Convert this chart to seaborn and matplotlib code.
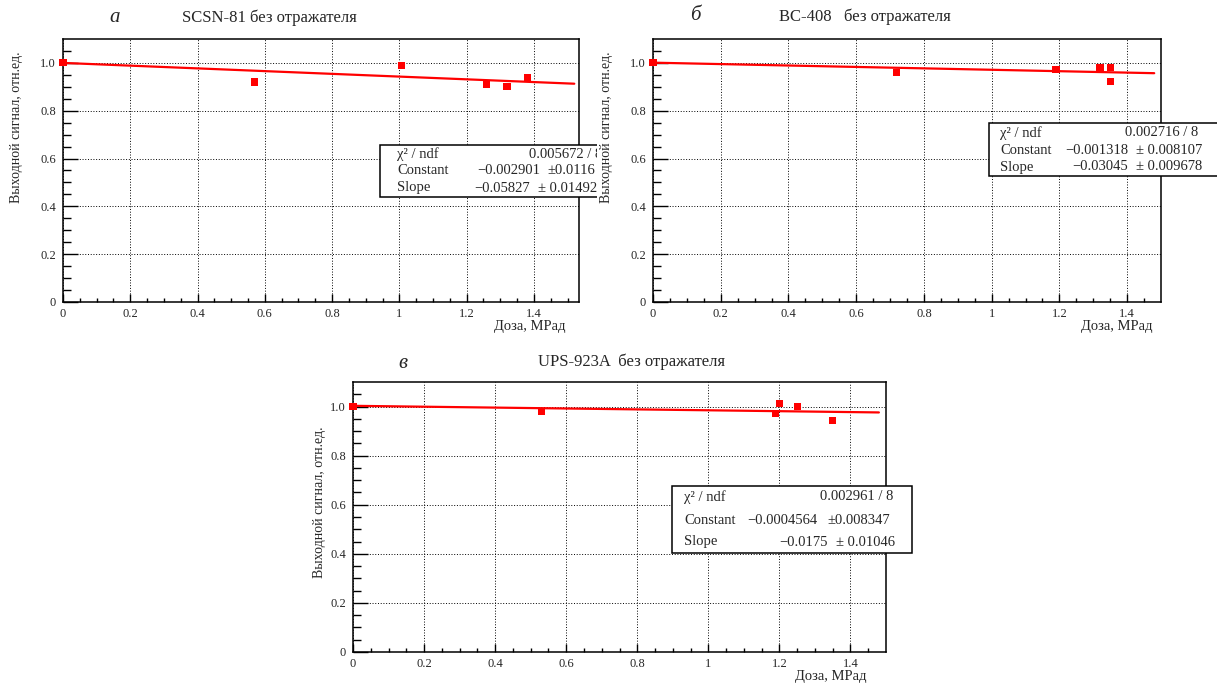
import numpy as np
import matplotlib
matplotlib.use("Agg")
import matplotlib.pyplot as plt
from matplotlib.patches import Rectangle
from matplotlib.transforms import Bbox, TransformedBbox
import seaborn as sns

# data
a_dose = [0.0, 0.57, 1.005, 1.26, 1.32, 1.38]
a_signal = [1.0, 0.92, 0.99, 0.91, 0.90, 0.94]
a_fit_x = [0.0, 1.52]
a_fit_y = [1.0, 0.913]

b_dose = [0.0, 0.72, 1.19, 1.32, 1.35, 1.35]
b_signal = [1.0, 0.96, 0.972, 0.982, 0.982, 0.922]
b_fit_x = [0.0, 1.48]
b_fit_y = [1.001, 0.957]

c_dose = [0.0, 0.53, 1.19, 1.20, 1.25, 1.35]
c_signal = [1.0, 0.981, 0.971, 1.012, 1.002, 0.942]
c_fit_x = [0.0, 1.48]
c_fit_y = [1.003, 0.976]

titles = ["SCSN-81 без отражателя", "BC-408   без отражателя", "UPS-923A  без отражателя"]
letters = ["а", "б", "в"]
stat_labels = ["χ² / ndf", "Constant", "Slope"]
a_stats = ["0.005672 / 8", ("−0.002901", "±0.0116"), ("−0.05827", "± 0.01492")]
b_stats = ["0.002716 / 8", ("−0.001318", "± 0.008107"), ("−0.03045", "± 0.009678")]
c_stats = ["0.002961 / 8", ("−0.0004564", "±0.008347"), ("−0.0175", "± 0.01046")]

x_ticks = [0, 0.2, 0.4, 0.6, 0.8, 1.0, 1.2, 1.4]
x_labels = ["0", "0.2", "0.4", "0.6", "0.8", "1", "1.2", "1.4"]
y_ticks = [0, 0.2, 0.4, 0.6, 0.8, 1.0]
y_labels = ["0", "0.2", "0.4", "0.6", "0.8", "1.0"]
xlabel = "Доза, МРад"
ylabel = "Выходной сигнал, отн.ед."

sns.set_theme(style="ticks")
plt.rcParams["font.family"] = ["Liberation Serif", "DejaVu Serif"]

W, H = 1217, 683
fig = plt.figure(figsize=(W / 100, H / 100), dpi=100)


def px(x, y):
    return x / W, 1 - y / H


def make_axes(l, t, r, b):
    return fig.add_axes([l / W, 1 - b / H, (r - l) / W, (b - t) / H])


panels = [
    dict(box=(63, 39, 579, 302), xmax=1.534, dose=a_dose, sig=a_signal, fx=a_fit_x, fy=a_fit_y,
         ylab=(-0.091, 0.951), xlab=(0.973, -0.092),
         letter=(109, 17), title=(182, 18),
         stats=a_stats, sbox=(380, 145, 640, 197), clip=597,
         rows=(154, 171, 188), lab_x=397, r1=602, vx=(540, 530), ex=(547, 538)),
    dict(box=(653, 39, 1161, 302), xmax=1.50, dose=b_dose, sig=b_signal, fx=b_fit_x, fy=b_fit_y,
         ylab=(-0.0906, 0.951), xlab=(0.984, -0.092),
         letter=(690, 15), title=(779, 17),
         stats=b_stats, sbox=(989, 123, 1230, 176), clip=1217,
         rows=(133, 150, 167), lab_x=1000, r1=1198, vx=(1128, 1128), ex=(1136, 1136)),
    dict(box=(353, 382, 886, 652), xmax=1.50, dose=c_dose, sig=c_signal, fx=c_fit_x, fy=c_fit_y,
         ylab=(-0.0635, 0.836), xlab=(0.963, -0.09),
         letter=(398, 363), title=(538, 362),
         stats=c_stats, sbox=(672, 486, 912, 553), clip=1217,
         rows=(497, 520, 542), lab_x=684, r1=893, vx=(817, 828), ex=(827, 836)),
]

for i, p in enumerate(panels):
    ax = make_axes(*p["box"])
    sns.lineplot(x=p["fx"], y=p["fy"], color="#ff0000", lw=1.6, ax=ax, zorder=3)
    sns.scatterplot(x=p["dose"], y=p["sig"], marker="s", color="#ff0000", s=26,
                    edgecolor="none", ax=ax, zorder=4, clip_on=False)
    ax.set_xlim(0, p["xmax"])
    ax.set_ylim(0, 1.1)
    ax.set_xticks(x_ticks, x_labels)
    ax.set_yticks(y_ticks, y_labels)
    ax.set_xticks(np.arange(0, p["xmax"], 0.05), minor=True)
    ax.set_yticks(np.arange(0, 1.1, 0.05), minor=True)
    ax.tick_params(axis="y", which="major", direction="in", length=11, width=1,
                   pad=5, labelsize=9, color="black")
    ax.tick_params(axis="y", which="minor", direction="in", length=5.5, width=1, color="black")
    ax.tick_params(axis="x", which="major", direction="in", length=6, width=1,
                   pad=4, labelsize=9, color="black")
    ax.tick_params(axis="x", which="minor", direction="in", length=3, width=1, color="black")
    ax.grid(True, which="major", linestyle=(0, (1, 1.8)), color="black", linewidth=0.7)
    for sp in ax.spines.values():
        sp.set_color("black")
        sp.set_linewidth(1.1)
    ax.set_xlabel(xlabel, fontsize=10.5, ha="right", va="center")
    ax.xaxis.set_label_coords(*p["xlab"])
    ax.set_ylabel(ylabel, fontsize=10, ha="right", va="center")
    ax.yaxis.set_label_coords(*p["ylab"])

    fig.text(*px(*p["letter"]), letters[i], fontsize=15, style="italic", va="center", ha="left")
    fig.text(*px(*p["title"]), titles[i], fontsize=12, va="center", ha="left")

    # stats box
    clip = TransformedBbox(Bbox.from_extents(0, 0, p["clip"] / W, 1), fig.transFigure)
    x0, y0, x1, y1 = p["sbox"]
    rect = Rectangle(px(x0, y1), (x1 - x0) / W, (y1 - y0) / H, transform=fig.transFigure,
                     facecolor="white", edgecolor="black", lw=1.1, zorder=5)
    rect.set_clip_box(clip)
    fig.patches.append(rect)
    st = p["stats"]
    texts = []
    fs = 10.5
    for k, lab in enumerate(stat_labels):
        texts.append(fig.text(*px(p["lab_x"], p["rows"][k]), lab, fontsize=fs, va="center", ha="left", zorder=6))
    texts.append(fig.text(*px(p["r1"], p["rows"][0]), st[0], fontsize=fs, va="center", ha="right", zorder=6))
    for k in (1, 2):
        texts.append(fig.text(*px(p["vx"][k - 1], p["rows"][k]), st[k][0], fontsize=fs,
                              va="center", ha="right", zorder=6))
        texts.append(fig.text(*px(p["ex"][k - 1], p["rows"][k]), st[k][1], fontsize=fs,
                              va="center", ha="left", zorder=6))
    for t in texts:
        t.set_clip_box(clip)
        t.set_clip_on(True)

fig.savefig("out.png", dpi=100, facecolor="white")
